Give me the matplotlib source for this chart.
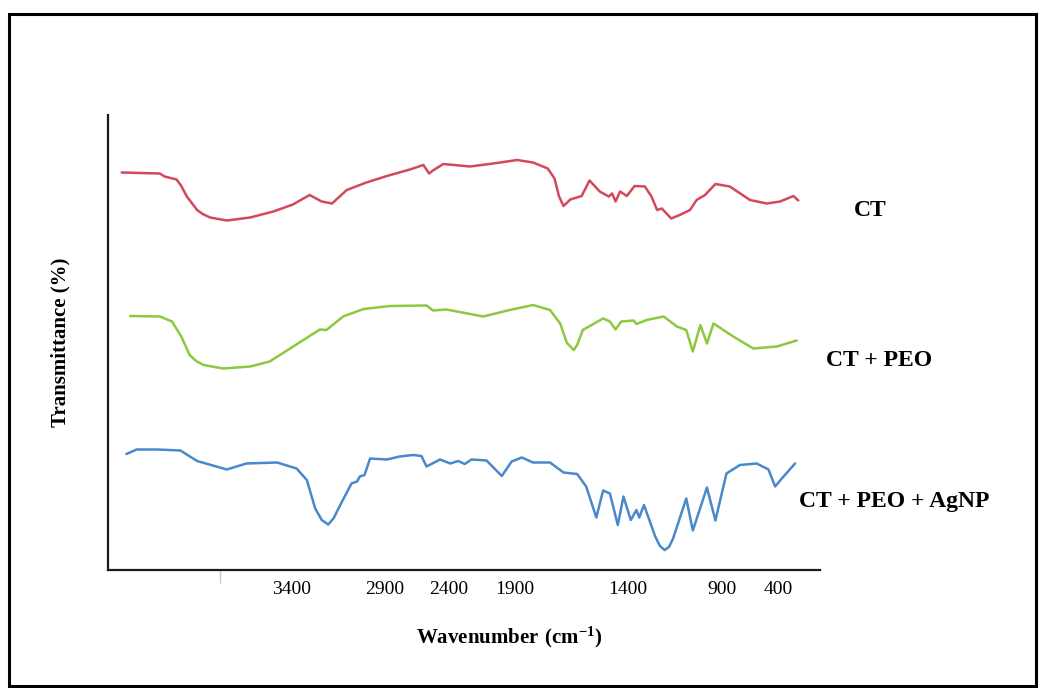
import numpy as np
import matplotlib
matplotlib.use("Agg")
from matplotlib import pyplot as plt
from matplotlib.patches import Rectangle

plt.rcParams['font.family'] = ['Liberation Serif', 'DejaVu Serif']
plt.rcParams['mathtext.fontset'] = 'custom'
plt.rcParams['mathtext.rm'] = 'Liberation Serif'
plt.rcParams['mathtext.bf'] = 'Liberation Serif:bold'

# FTIR spectra (wavenumber in cm-1, transmittance in arbitrary % units, stacked)
ct_wn = [4315, 4110, 4085, 4020, 3995, 3965, 3910, 3880, 3840, 3750, 3625, 3500,
         3395, 3305, 3240, 3185, 3105, 3000, 2885, 2705, 2600, 2555, 2525, 2445,
         2240, 2065, 1890, 1820, 1755, 1725, 1705, 1685, 1655, 1605, 1570, 1525,
         1485, 1470, 1455, 1435, 1405, 1365, 1310, 1275, 1245, 1220, 1170, 1125,
         1070, 1035, 990, 935, 830, 650, 500, 380, 260, 215]
ct_t = [79.5, 79.3, 78.7, 78.1, 76.8, 74.7, 72.0, 71.2, 70.5, 69.9, 70.5, 71.7,
        73.1, 75.0, 73.7, 73.3, 76.0, 77.5, 78.8, 80.1, 81.0, 79.3, 79.9, 81.2,
        80.7, 81.3, 82.0, 81.5, 80.3, 78.3, 74.7, 72.8, 74.1, 74.8, 77.9, 75.7,
        74.7, 75.3, 73.7, 75.7, 74.8, 76.8, 76.7, 74.7, 72.0, 72.3, 70.3, 71.0,
        72.0, 74.0, 75.0, 77.2, 76.7, 74.0, 73.3, 73.7, 74.8, 73.9]

peo_wn = [4270, 4110, 4045, 3995, 3950, 3915, 3875, 3770, 3625, 3520, 3410, 3305,
          3250, 3215, 3125, 3015, 2860, 2575, 2525, 2420, 2140, 1940, 1820, 1745,
          1700, 1670, 1640, 1625, 1600, 1510, 1480, 1455, 1430, 1370, 1355, 1300,
          1210, 1140, 1090, 1055, 1015, 980, 945, 800, 620, 410, 230]
peo_t = [50.8, 50.7, 49.7, 46.7, 43.0, 41.8, 41.0, 40.3, 40.7, 41.7, 44.3, 46.8,
         48.1, 48.0, 50.7, 52.2, 52.8, 52.9, 51.9, 52.1, 50.7, 52.0, 53.0, 52.0,
         49.3, 45.4, 44.0, 45.0, 48.0, 50.3, 49.7, 48.1, 49.7, 49.9, 49.2, 50.0,
         50.7, 48.7, 48.0, 43.7, 49.0, 45.3, 49.3, 46.7, 44.3, 44.7, 45.9]

ag_wn = [4290, 4235, 4125, 4000, 3910, 3750, 3645, 3480, 3375, 3320, 3275, 3240,
         3205, 3175, 3150, 3080, 3050, 3035, 3010, 2980, 2885, 2785, 2680, 2615,
         2575, 2470, 2390, 2330, 2280, 2230, 2115, 2000, 1925, 1870, 1820, 1745,
         1685, 1625, 1585, 1540, 1510, 1480, 1445, 1420, 1385, 1355, 1340, 1315,
         1255, 1230, 1205, 1182, 1160, 1090, 1055, 980, 935, 860, 740, 590, 485,
         425, 365, 245]
ag_t = [23.2, 24.1, 24.1, 23.9, 21.8, 20.1, 21.3, 21.5, 20.3, 18.0, 12.3, 10.0,
        9.1, 10.4, 12.3, 17.3, 17.7, 18.7, 19.0, 22.3, 22.1, 22.7, 23.0, 22.8,
        20.7, 22.1, 21.3, 21.8, 21.2, 22.1, 21.9, 18.8, 21.7, 22.5, 21.5, 21.5,
        19.5, 19.2, 16.7, 10.5, 15.9, 15.3, 9.0, 14.7, 10.0, 12.0, 10.5, 13.0,
        6.7, 4.8, 4.0, 4.6, 6.3, 14.3, 7.9, 16.5, 9.9, 19.3, 21.0, 21.3, 20.1,
        16.7, 18.3, 21.3]

names = ["CT", "CT + PEO", "CT + PEO + AgNP"]
colors = ["#d4485c", "#8cc840", "#4a88cc"]
tick_values = [3400, 2900, 2400, 1900, 1400, 900, 400]

# the printed axis is not linear: piecewise breaks
brk_wn = [0, 400, 900, 1400, 1900, 2400, 2900, 3400, 4400]
brk_pos = [822, 778, 722, 628, 515, 449, 385, 292, 106]


def fwd(w):
    return -np.interp(w, brk_wn, brk_pos)


def inv(t):
    return np.interp(t, [-p for p in brk_pos], brk_wn)


fig = plt.figure(figsize=(10.43, 6.88), dpi=100)
fig.patches.append(Rectangle((9 / 1043, 2 / 688), 1027 / 1043, 672 / 688,
                             transform=fig.transFigure, fill=False,
                             edgecolor='black', linewidth=2.2))

ax = fig.add_axes([108 / 1043, 118 / 688, 712 / 1043, 455 / 688])
ax.set_xscale('function', functions=(fwd, inv))

for wn, t, c in zip([ct_wn, peo_wn, ag_wn], [ct_t, peo_t, ag_t], colors):
    ax.plot(wn, t, color=c, lw=1.8, solid_joinstyle='round', solid_capstyle='round')

ax.set_xlim(4389, 18)
ax.set_ylim(0, 91)

ax.set_xticks(tick_values)
ax.set_xticklabels([str(v) for v in tick_values], fontsize=14)
ax.tick_params(axis='x', length=0, pad=8)
ax.set_xticks([3787], minor=True)
ax.tick_params(axis='x', which='minor', length=9, color='#c8c8c8', width=1)
ax.set_yticks([])

for s in ['top', 'right']:
    ax.spines[s].set_visible(False)
for s in ['left', 'bottom']:
    ax.spines[s].set_linewidth(1.6)
    ax.spines[s].set_color('#1a1a1a')

fig.text(509 / 1043, (688 - 637) / 688, r'$\mathbf{Wavenumber\ (cm^{-1})}$',
         fontsize=15, ha='center', va='center')
ax.set_ylabel('Transmittance (%)', fontsize=15, fontweight='bold', labelpad=27)

label_y = [(688 - 211) / 688, (688 - 361) / 688, (688 - 501) / 688]
label_x = [870 / 1043, 879 / 1043, 894 / 1043]
for n, lx, ly in zip(names, label_x, label_y):
    fig.text(lx, ly, n, fontsize=17, fontweight='bold', ha='center', va='center')

fig.savefig('out.png', dpi=100)
